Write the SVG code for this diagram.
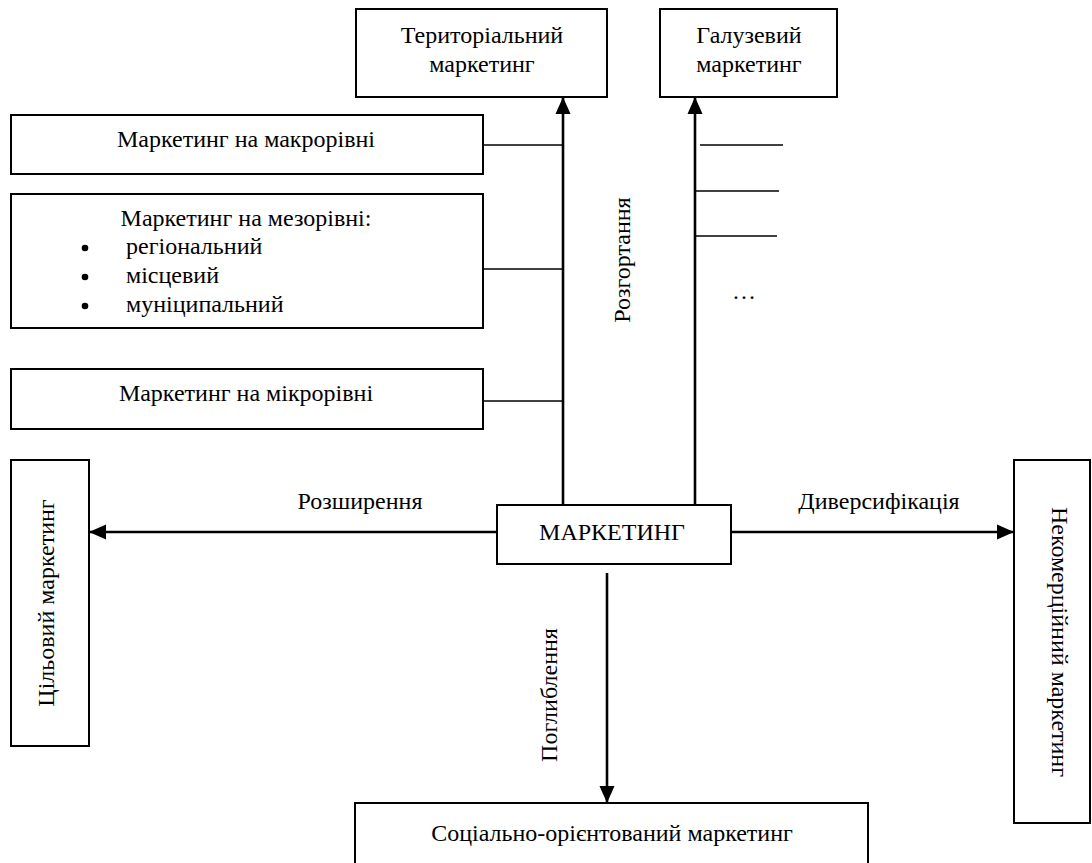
<svg xmlns="http://www.w3.org/2000/svg" width="1092" height="863" viewBox="0 0 1092 863">
<style>
.box{fill:#fff;stroke:#000;stroke-width:2}
.t{font-family:"Liberation Serif","Times New Roman","DejaVu Serif",serif;font-size:24px;fill:#000}
.c{text-anchor:middle}
.arr{stroke:#000;stroke-width:2.6;fill:none}
.ln{stroke:#000;stroke-width:1.6;fill:none}
</style>
<defs>
<marker id="ah" markerUnits="userSpaceOnUse" markerWidth="17" markerHeight="16" viewBox="0 0 17 16" refX="17" refY="8" orient="auto">
<path d="M0,0.5 L17,8 L0,15.5 Z" fill="#000"/>
</marker>
</defs>
<rect width="1092" height="863" fill="#fff"/>
<g id="connectors">
<line class="arr" x1="563" y1="505" x2="563" y2="97" marker-end="url(#ah)"/>
<line class="arr" x1="695" y1="505" x2="695" y2="97" marker-end="url(#ah)"/>
<line class="arr" x1="497" y1="532" x2="89" y2="532" marker-end="url(#ah)"/>
<line class="arr" x1="731" y1="532" x2="1014" y2="532" marker-end="url(#ah)"/>
<line class="arr" x1="607" y1="573" x2="607" y2="803" marker-end="url(#ah)"/>
<line class="ln" x1="483" y1="145" x2="563" y2="145"/>
<line class="ln" x1="483" y1="269" x2="563" y2="269"/>
<line class="ln" x1="483" y1="401" x2="563" y2="401"/>
<line class="ln" x1="700" y1="145" x2="783" y2="145"/>
<line class="ln" x1="695" y1="191" x2="779" y2="191"/>
<line class="ln" x1="695" y1="236" x2="777" y2="236"/>
<text class="t c" x="744" y="299">…</text>
<text class="t c" transform="translate(630,260) rotate(-90)">Розгортання</text>
<text class="t c" x="360" y="509">Розширення</text>
<text class="t c" x="879" y="509">Диверсифікація</text>
<text class="t c" transform="translate(557,695) rotate(-90)">Поглиблення</text>
</g>
<g id="territorial">
<rect class="box" x="356" y="9" width="251" height="88"/>
<text class="t c" x="482" y="43">Територіальний</text>
<text class="t c" x="482" y="72">маркетинг</text>
</g>
<g id="galuzevyi">
<rect class="box" x="660" y="9" width="177" height="88"/>
<text class="t c" x="749" y="43">Галузевий</text>
<text class="t c" x="749" y="72">маркетинг</text>
</g>
<g id="macro">
<rect class="box" x="11" y="115" width="472" height="59"/>
<text class="t c" x="246" y="147">Маркетинг на макрорівні</text>
</g>
<g id="mezo">
<rect class="box" x="11" y="194" width="472" height="134"/>
<text class="t c" x="246" y="226">Маркетинг на мезорівні:</text>
<circle cx="85" cy="248" r="3.3"/>
<circle cx="85" cy="277" r="3.3"/>
<circle cx="85" cy="306" r="3.3"/>
<text class="t" x="126" y="254">регіональний</text>
<text class="t" x="126" y="283">місцевий</text>
<text class="t" x="126" y="312">муніципальний</text>
</g>
<g id="micro">
<rect class="box" x="11" y="369" width="472" height="60"/>
<text class="t c" x="246" y="401">Маркетинг на мікрорівні</text>
</g>
<g id="marketing">
<rect class="box" x="497" y="505" width="234" height="59"/>
<text class="t c" x="612" y="540">МАРКЕТИНГ</text>
</g>
<g id="target">
<rect class="box" x="11" y="460" width="78" height="286"/>
<text class="t c" transform="translate(54,603) rotate(-90)">Цільовий маркетинг</text>
</g>
<g id="noncommercial">
<rect class="box" x="1014" y="460" width="76" height="363"/>
<text class="t c" transform="translate(1052,642) rotate(90)">Некомерційний маркетинг</text>
</g>
<g id="social">
<rect class="box" x="355" y="803" width="513" height="80"/>
<text class="t c" x="612" y="841">Соціально-орієнтований маркетинг</text>
</g>
</svg>
